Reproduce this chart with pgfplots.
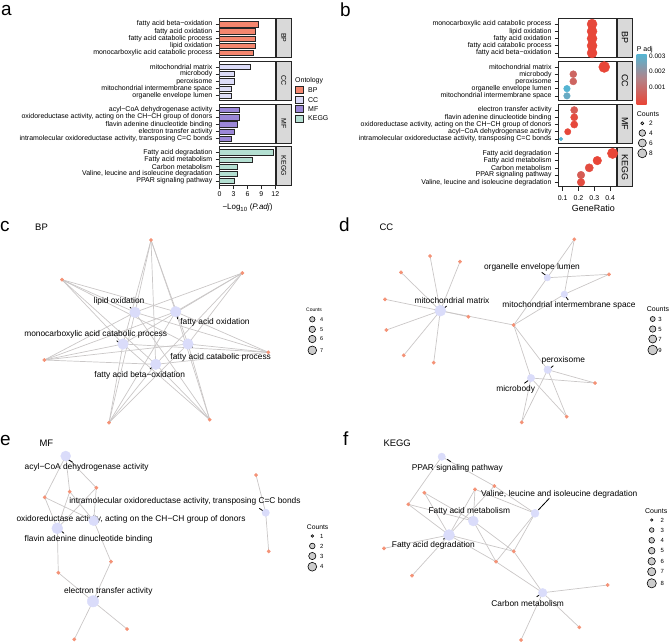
\documentclass[border=0pt]{standalone}
\usepackage{pgfplots}
\pgfplotsset{compat=1.18}
\usepackage{fontspec}
\setmainfont{Liberation Sans}
\newcommand\fs[1]{\fontsize{#1}{#1}\selectfont}
\definecolor{cBP}{RGB}{244,134,110}
\definecolor{cCC}{RGB}{220,220,248}
\definecolor{cMF}{RGB}{155,135,215}
\definecolor{cKE}{RGB}{180,224,210}
\definecolor{gene}{RGB}{244,146,118}
\definecolor{term}{RGB}{218,220,250}
\definecolor{edgec}{RGB}{202,199,199}
\definecolor{stripc}{RGB}{217,217,217}
\definecolor{pred}{RGB}{232,70,56}
\definecolor{pblue}{RGB}{85,180,210}
\definecolor{pmid}{RGB}{180,130,135}
\pgfplotsset{
  facet/.style={scale only axis, anchor=north west, y dir=reverse, ymin=0.2, ymax=5.6,
    ytick={1,2,3,4,5}, ytick pos=left, xtick pos=bottom, tick align=outside,
    major tick length=4bp, tick style={black!85, line width=0.5bp},
    axis line style={black!85, line width=0.7bp},
    yticklabel=\empty, xticklabel=\empty, xtick=\empty},
  facetA/.style={facet, width=56bp, height=38.8bp, xmin=-0.03, xmax=12.04},
  facetB/.style={facet, width=58bp, height=39bp, xmin=0.0747, xmax=0.442,
    colormap={pa}{rgb255=(232,70,56) rgb255=(180,130,135) rgb255=(85,180,210)},
    point meta min=0, point meta max=0.0031},
  dots/.style={scatter, only marks, mark=*, point meta=explicit,
    scatter/use mapped color={draw=mapped color, fill=mapped color},
    visualization depends on={\thisrow{r}\as\msz},
    scatter/@pre marker code/.append style={/tikz/mark size=\msz bp}},
  bars/.style={xbar, bar width=5.3bp, draw=black!85, line width=0.5bp},
}
% network coordinates (pixel units)
\def\pcA{151,240}\def\pcB{62,279.7}\def\pcC{242.3,273}\def\pcD{268.3,352.3}\def\pcE{44.3,360}\def\pcF{109,422.7}\def\pcG{209.7,419.7}
\def\pcLO{135,312.3}\def\pcFO{175.7,311.7}\def\pcMC{123,344}\def\pcFC{188,344}\def\pcBO{155.7,364.3}
\def\pdA{430,256}\def\pdB{460,261.7}\def\pdC{401,272.3}\def\pdD{385,299.3}\def\pdE{386.3,330}\def\pdF{403.7,355.3}\def\pdG{433.7,362.7}\def\pdH{468.3,316.7}\def\pdI{513.7,325}\def\pdJ{574.3,239.3}\def\pdK{609,274.3}\def\pdL{595,383}\def\pdM{566.7,416.7}\def\pdN{521.7,422.3}
\def\pdMM{440.3,310.7}\def\pdOE{547.3,277.7}\def\pdMS{564.3,294.3}\def\pdPX{547.7,369.7}\def\pdMB{531,378}
\def\peA{44.7,497.3}\def\peB{69.7,491.7}\def\peC{96.3,487.7}\def\peD{58.3,572.7}\def\peE{111,561.7}\def\peF{127,629}\def\peG{74.3,639.3}\def\peH{256,475}\def\peI{268.7,551.3}
\def\peAC{65.7,456}\def\peOX{93.7,520.7}\def\peFL{57.3,528.3}\def\peET{93,601.3}\def\peIM{265.7,512.7}
\def\pfA{424.3,492.7}\def\pfB{408.3,504.3}\def\pfC{475,489.3}\def\pfD{494.3,486}\def\pfE{384,548.3}\def\pfF{412,575.7}\def\pfG{513.7,551.3}\def\pfH{496,561.7}\def\pfI{607.7,585}\def\pfJ{579.3,627.3}\def\pfK{521,640}
\def\pfPP{441.7,456.7}\def\pfVL{535,513.3}\def\pfFM{473.3,521}\def\pfFD{449,535}\def\pfCM{542.7,592.7}
\newcommand\Edge[2]{\edef\tmp{\noexpand\addplot[edgec, line width=0.7bp, forget plot] coordinates {(\csname p#1\endcsname) (\csname p#2\endcsname)};}\tmp}
\newcommand\Term[2]{\edef\tmp{\noexpand\addplot[only marks, mark=*, mark size=#2bp, color=term, forget plot] coordinates {(\csname p#1\endcsname)};}\tmp}
\newcommand\Gene[1]{\edef\tmp{\noexpand\addplot[only marks, mark=*, mark size=1.7bp, color=gene, forget plot] coordinates {(\csname p#1\endcsname)};}\tmp}
\newcommand\LC[3]{\addplot[only marks, mark=*, mark size=#3bp, mark options={fill=black!20, draw=black, line width=0.6bp}, forget plot] coordinates {(#1,#2)};}
\newcommand\Ec[1]{\Edge{#1}{cA}\Edge{#1}{cB}\Edge{#1}{cC}\Edge{#1}{cD}\Edge{#1}{cE}\Edge{#1}{cF}\Edge{#1}{cG}}
% category label helpers: right edge x, y, text
\newcommand\CL[3]{\node[anchor=east, font=\fs{7}, inner sep=0] at (#1,#2) {#3};}
\begin{document}
\begin{tikzpicture}
\path[use as bounding box] (0bp,0bp) rectangle (669bp,-642bp);
\begin{axis}[at={(0bp,0bp)}, anchor=north west, scale only axis, width=669bp, height=642bp,
  xmin=0, xmax=669, ymin=0, ymax=642, y dir=reverse, hide axis, clip=false]
% panel c edges
\Ec{cLO}\Ec{cFO}\Ec{cMC}\Ec{cFC}\Ec{cBO}
% panel d edges
\Edge{dMM}{dA}\Edge{dMM}{dB}\Edge{dMM}{dC}\Edge{dMM}{dD}\Edge{dMM}{dE}\Edge{dMM}{dF}\Edge{dMM}{dG}\Edge{dMM}{dH}\Edge{dMM}{dI}
\Edge{dOE}{dI}\Edge{dOE}{dJ}\Edge{dOE}{dK}
\Edge{dMS}{dI}\Edge{dMS}{dJ}\Edge{dMS}{dK}
\Edge{dPX}{dI}\Edge{dPX}{dL}\Edge{dPX}{dM}\Edge{dPX}{dN}
\Edge{dMB}{dI}\Edge{dMB}{dL}\Edge{dMB}{dM}\Edge{dMB}{dN}
% panel e edges
\Edge{eAC}{eA}\Edge{eAC}{eB}\Edge{eAC}{eC}
\Edge{eOX}{eA}\Edge{eOX}{eB}\Edge{eOX}{eC}\Edge{eOX}{eE}
\Edge{eFL}{eA}\Edge{eFL}{eB}\Edge{eFL}{eC}\Edge{eFL}{eD}
\Edge{eET}{eD}\Edge{eET}{eE}\Edge{eET}{eF}\Edge{eET}{eG}
\Edge{eIM}{eH}\Edge{eIM}{eI}
% panel f edges
\Edge{fPP}{fB}\Edge{fPP}{fD}
\Edge{fVL}{fC}\Edge{fVL}{fD}\Edge{fVL}{fG}\Edge{fVL}{fH}
\Edge{fFM}{fA}\Edge{fFM}{fB}\Edge{fFM}{fC}\Edge{fFM}{fG}\Edge{fFM}{fH}
\Edge{fFD}{fA}\Edge{fFD}{fB}\Edge{fFD}{fC}\Edge{fFD}{fD}\Edge{fFD}{fE}\Edge{fFD}{fF}\Edge{fFD}{fG}\Edge{fFD}{fH}
\Edge{fCM}{fG}\Edge{fCM}{fH}\Edge{fCM}{fI}\Edge{fCM}{fJ}\Edge{fCM}{fK}
% term nodes
\Term{cLO}{5.3}\Term{cFO}{5.3}\Term{cMC}{5.3}\Term{cFC}{5.3}\Term{cBO}{5.3}
\Term{dMM}{5.5}\Term{dOE}{3.3}\Term{dMS}{3.3}\Term{dPX}{3.8}\Term{dMB}{3.7}
\Term{eAC}{5}\Term{eOX}{5}\Term{eFL}{5.5}\Term{eET}{5.7}\Term{eIM}{3.7}
\Term{fPP}{3.7}\Term{fVL}{4}\Term{fFM}{5}\Term{fFD}{5.5}\Term{fCM}{4.3}
% gene nodes
\Gene{cA}\Gene{cB}\Gene{cC}\Gene{cD}\Gene{cE}\Gene{cF}\Gene{cG}
\Gene{dA}\Gene{dB}\Gene{dC}\Gene{dD}\Gene{dE}\Gene{dF}\Gene{dG}\Gene{dH}\Gene{dI}\Gene{dJ}\Gene{dK}\Gene{dL}\Gene{dM}\Gene{dN}
\Gene{eA}\Gene{eB}\Gene{eC}\Gene{eD}\Gene{eE}\Gene{eF}\Gene{eG}\Gene{eH}\Gene{eI}
\Gene{fA}\Gene{fB}\Gene{fC}\Gene{fD}\Gene{fE}\Gene{fF}\Gene{fG}\Gene{fH}\Gene{fI}\Gene{fJ}\Gene{fK}
% count legends
\LC{312.3}{319.3}{2.7}\LC{312.3}{329.3}{3.2}\LC{312.3}{339}{3.7}\LC{312.3}{350.3}{4.3}
\LC{652.7}{319}{2.5}\LC{652.7}{329}{3.2}\LC{652.7}{339}{4}\LC{652.7}{350}{4.8}
\LC{312.3}{536}{1.3}\LC{312.3}{546}{2.8}\LC{312.3}{556}{3.6}\LC{312.3}{566.7}{4.4}
\LC{651.7}{520}{1.2}\LC{651.7}{530}{2.3}\LC{651.7}{540.3}{2.8}\LC{651.7}{550.7}{3.3}\LC{651.7}{561.3}{3.7}\LC{651.7}{571.7}{4.1}\LC{651.7}{583.3}{4.6}
\LC{642.3}{123.3}{1.5}\LC{642.3}{133}{3.3}\LC{642.3}{143}{4}\LC{642.3}{153.3}{4.5}
% ontology legend keys
\addplot[fill=cBP, draw=black!85, line width=0.6bp, forget plot] coordinates {(295,86.5) (303.3,86.5) (303.3,93.5) (295,93.5) (295,86.5)};
\addplot[fill=cCC, draw=black!85, line width=0.6bp, forget plot] coordinates {(295,96.2) (303.3,96.2) (303.3,103.2) (295,103.2) (295,96.2)};
\addplot[fill=cMF, draw=black!85, line width=0.6bp, forget plot] coordinates {(295,105.5) (303.3,105.5) (303.3,112.5) (295,112.5) (295,105.5)};
\addplot[fill=cKE, draw=black!85, line width=0.6bp, forget plot] coordinates {(295,114.8) (303.3,114.8) (303.3,121.8) (295,121.8) (295,114.8)};
% ---- panel letters and titles
\node[anchor=base west, font=\fs{19}, inner sep=0] at (1,15) {a};
\node[anchor=base west, font=\fs{19}, inner sep=0] at (340,16) {b};
\node[anchor=base west, font=\fs{19}, inner sep=0] at (0,231.7) {c};
\node[anchor=base west, font=\fs{19}, inner sep=0] at (339,231.7) {d};
\node[anchor=base west, font=\fs{19}, inner sep=0] at (0,445) {e};
\node[anchor=base west, font=\fs{19}, inner sep=0] at (343,445) {f};
\node[anchor=base west, font=\fs{9.5}, inner sep=0] at (35,230.7) {BP};
\node[anchor=base west, font=\fs{9.5}, inner sep=0] at (379.3,230.7) {CC};
\node[anchor=base west, font=\fs{9.5}, inner sep=0] at (39.3,446.7) {MF};
\node[anchor=base west, font=\fs{9.5}, inner sep=0] at (383.3,446.7) {KEGG};
% ---- category labels panel a
\CL{212.5}{24.15}{fatty acid beta−oxidation}
\CL{212.5}{31.33}{fatty acid oxidation}
\CL{212.5}{38.52}{fatty acid catabolic process}
\CL{212.5}{45.70}{lipid oxidation}
\CL{212.5}{52.89}{monocarboxylic acid catabolic process}
\CL{212.5}{66.85}{mitochondrial matrix}
\CL{212.5}{74.03}{microbody}
\CL{212.5}{81.22}{peroxisome}
\CL{212.5}{88.40}{mitochondrial intermembrane space}
\CL{212.5}{95.59}{organelle envelope lumen}
\CL{212.5}{109.95}{acyl−CoA dehydrogenase activity}
\CL{212.5}{117.13}{oxidoreductase activity, acting on the CH−CH group of donors}
\CL{212.5}{124.32}{flavin adenine dinucleotide binding}
\CL{212.5}{131.50}{electron transfer activity}
\CL{212.5}{138.69}{intramolecular oxidoreductase activity, transposing C=C bonds}
\CL{212.5}{152.35}{Fatty acid degradation}
\CL{212.5}{159.53}{Fatty acid metabolism}
\CL{212.5}{166.72}{Carbon metabolism}
\CL{212.5}{173.90}{Valine, leucine and isoleucine degradation}
\CL{212.5}{181.09}{PPAR signaling pathway}
% ---- category labels panel b
\CL{551.7}{24.08}{monocarboxylic acid catabolic process}
\CL{551.7}{31.30}{lipid oxidation}
\CL{551.7}{38.52}{fatty acid oxidation}
\CL{551.7}{45.74}{fatty acid catabolic process}
\CL{551.7}{52.97}{fatty acid beta−oxidation}
\CL{551.7}{66.98}{mitochondrial matrix}
\CL{551.7}{74.20}{microbody}
\CL{551.7}{81.42}{peroxisome}
\CL{551.7}{88.64}{organelle envelope lumen}
\CL{551.7}{95.87}{mitochondrial intermembrane space}
\CL{551.7}{110.08}{electron transfer activity}
\CL{551.7}{117.30}{flavin adenine dinucleotide binding}
\CL{551.7}{124.52}{oxidoreductase activity, acting on the CH−CH group of donors}
\CL{551.7}{131.74}{acyl−CoA dehydrogenase activity}
\CL{551.7}{138.97}{intramolecular oxidoreductase activity, transposing C=C bonds}
\CL{551.7}{153.38}{Fatty acid degradation}
\CL{551.7}{160.60}{Fatty acid metabolism}
\CL{551.7}{167.82}{Carbon metabolism}
\CL{551.7}{175.04}{PPAR signaling pathway}
\CL{551.7}{182.27}{Valine, leucine and isoleucine degradation}
% ---- x tick numbers
\begin{scope}[every node/.style={font=\fs{7}, inner sep=0}]
\node at (219.64,194.3) {0}; \node at (233.56,194.3) {3}; \node at (247.48,194.3) {6};
\node at (261.4,194.3) {9}; \node at (275.3,194.3) {12};
\node at (562.7,198.5) {0.1}; \node at (578.5,198.5) {0.2}; \node at (594.3,198.5) {0.3}; \node at (610.1,198.5) {0.4};
\end{scope}
% strips
\draw[fill=stripc, draw=black!85, line width=0.6bp] (276,18.4) rectangle (291.7,57.2);
\draw[fill=stripc, draw=black!85, line width=0.6bp] (276,61.1) rectangle (291.7,99.9);
\draw[fill=stripc, draw=black!85, line width=0.6bp] (276,104.2) rectangle (291.7,143);
\draw[fill=stripc, draw=black!85, line width=0.6bp] (276,146.6) rectangle (291.7,185.4);
\node[rotate=-90, font=\fs{7}] at (283.85,37.8) {BP};
\node[rotate=-90, font=\fs{7}] at (283.85,80.5) {CC};
\node[rotate=-90, font=\fs{7}] at (283.85,123.6) {MF};
\node[rotate=-90, font=\fs{7}] at (283.85,166) {KEGG};
\draw[fill=stripc, draw=black!85, line width=0.6bp] (617.3,18.3) rectangle (632.7,57.3);
\draw[fill=stripc, draw=black!85, line width=0.6bp] (617.3,61.2) rectangle (632.7,100.2);
\draw[fill=stripc, draw=black!85, line width=0.6bp] (617.3,104.3) rectangle (632.7,143.3);
\draw[fill=stripc, draw=black!85, line width=0.6bp] (617.3,147.6) rectangle (632.7,186.6);
\node[rotate=-90, font=\fs{9}] at (625,37.8) {BP};
\node[rotate=-90, font=\fs{9}] at (625,80.7) {CC};
\node[rotate=-90, font=\fs{9}] at (625,123.8) {MF};
\node[rotate=-90, font=\fs{9}] at (625,167.1) {KEGG};
% axis titles
\node[font=\fs{8}] at (247.5,207.5) {−Log\textsubscript{10} (\textit{P.adj})};
\node[font=\fs{9}] at (593.3,208.3) {GeneRatio};
% ontology legend
\node[anchor=west, font=\fs{7}, inner sep=0] at (295,81) {Ontology};
\node[anchor=west, font=\fs{7}, inner sep=0] at (308,90) {BP};
\node[anchor=west, font=\fs{7}, inner sep=0] at (308,99.7) {CC};
\node[anchor=west, font=\fs{7}, inner sep=0] at (308,109) {MF};
\node[anchor=west, font=\fs{7}, inner sep=0] at (308,118.3) {KEGG};
% colourbar legend b
\node[anchor=west, font=\fs{7}, inner sep=0] at (636.7,49.3) {P adj};
\shade[top color=pblue, bottom color=pred, middle color=pmid] (636.7,54.3) rectangle (646.7,104);
\node[anchor=west, font=\fs{6.5}, inner sep=0] at (649,56.7) {0.003};
\node[anchor=west, font=\fs{6.5}, inner sep=0] at (649,71.7) {0.002};
\node[anchor=west, font=\fs{6.5}, inner sep=0] at (649,87.3) {0.001};
\node[anchor=west, font=\fs{7}, inner sep=0] at (636.7,114) {Counts};
\node[font=\fs{6.5}, inner sep=0] at (651,123.3) {2};
\node[font=\fs{6.5}, inner sep=0] at (651,133) {4};
\node[font=\fs{6.5}, inner sep=0] at (651,143) {6};
\node[font=\fs{6.5}, inner sep=0] at (651,153.3) {8};
% network legends text
\node[anchor=west, font=\fs{5}, inner sep=0] at (306,310) {Counts};
\node[font=\fs{5.5}, inner sep=0] at (321.7,319.3) {4};
\node[font=\fs{5.5}, inner sep=0] at (321.7,329.3) {5};
\node[font=\fs{5.5}, inner sep=0] at (321.7,339) {6};
\node[font=\fs{5.5}, inner sep=0] at (321.7,350.3) {7};
\node[anchor=west, font=\fs{7}, inner sep=0] at (646.7,309.3) {Counts};
\node[font=\fs{6}, inner sep=0] at (660,319) {3};
\node[font=\fs{6}, inner sep=0] at (660,329) {5};
\node[font=\fs{6}, inner sep=0] at (660,339) {7};
\node[font=\fs{6}, inner sep=0] at (660,350) {9};
\node[anchor=west, font=\fs{6.8}, inner sep=0] at (306.7,526.7) {Counts};
\node[font=\fs{6}, inner sep=0] at (321.7,536) {1};
\node[font=\fs{6}, inner sep=0] at (321.7,546) {2};
\node[font=\fs{6}, inner sep=0] at (321.7,556) {3};
\node[font=\fs{6}, inner sep=0] at (321.7,566.7) {4};
\node[anchor=west, font=\fs{7}, inner sep=0] at (645,510.7) {Counts};
\node[font=\fs{6}, inner sep=0] at (662.3,520) {2};
\node[font=\fs{6}, inner sep=0] at (662.3,530) {3};
\node[font=\fs{6}, inner sep=0] at (662.3,540.3) {4};
\node[font=\fs{6}, inner sep=0] at (662.3,550.7) {5};
\node[font=\fs{6}, inner sep=0] at (662.3,561.3) {6};
\node[font=\fs{6}, inner sep=0] at (662.3,571.7) {7};
\node[font=\fs{6}, inner sep=0] at (662.3,583.3) {8};
% network labels and leaders
\begin{scope}[every node/.style={font=\fs{8.4}, inner sep=0}, line width=0.8bp]
\node at (119,301.3) {lipid oxidation}; \draw (130,307.3)--(133.3,310);
\node at (215,322.7) {fatty acid oxidation}; \draw (176.7,315)--(177.7,319);
\node at (95.7,334.3) {monocarboxylic acid catabolic process}; \draw (116.7,340.7)--(120.7,344);
\node at (220.7,357.7) {fatty acid catabolic process}; \draw (189.3,345)--(192.7,347.3);
\node at (139.7,375.3) {fatty acid beta−oxidation}; \draw (150,369)--(153.3,366);
\node at (452,300.7) {mitochondrial matrix}; \draw (442.7,309.3)--(446.7,306);
\node at (532,267.7) {organelle envelope lumen}; \draw (541.7,272.3)--(546.7,276);
\node at (569,305.7) {mitochondrial intermembrane space}; \draw (565.3,296)--(568.3,300);
\node at (563.3,360) {peroxisome}; \draw (549.3,369)--(553.3,365.7);
\node at (515.7,389) {microbody}; \draw (524.3,383.3)--(529,380);
\node at (86.7,467.3) {acyl−CoA dehydrogenase activity}; \draw (67.7,459.3)--(72.7,462.3);
\node at (185,501) {intramolecular oxidoreductase activity, transposing C=C bonds}; \draw (259.3,508.3)--(264.3,511.7);
\node at (131,519.3) {oxidoreductase activity, acting on the CH−CH group of donors}; \draw (96.3,517)--(98.3,520.3);
\node at (88.7,539) {flavin adenine dinucleotide binding}; \draw (60,530)--(64,533.3);
\node at (108.3,591.3) {electron transfer activity}; \draw (94.7,599.3)--(98.7,596);
\node at (457.3,468) {PPAR signaling pathway}; \draw (447.3,459.3)--(450.7,461.7);
\node at (559.3,494.3) {Valine, leucine and isoleucine degradation}; \draw (549.3,498.3)--(538.3,510);
\node at (469.3,511) {Fatty acid metabolism}; \draw (470,517.3)--(472.7,520);
\node at (433.3,545.7) {Fatty acid degradation}; \draw (443.3,539.3)--(447.3,536);
\node at (527.7,603.3) {Carbon metabolism}; \draw (536.7,596.7)--(541,594);
\end{scope}
\end{axis}
% ---------------- panel a facets
\begin{axis}[facetA, at={(219.5bp,-18.4bp)}]
\addplot[bars, fill=cBP] coordinates {(8.24,1) (7.66,2) (7.66,3) (7.66,4) (7.30,5)};
\end{axis}
\begin{axis}[facetA, at={(219.5bp,-61.1bp)}]
\addplot[bars, fill=cCC] coordinates {(6.50,1) (3.10,2) (3.10,3) (2.46,4) (2.46,5)};
\end{axis}
\begin{axis}[facetA, at={(219.5bp,-104.2bp)}]
\addplot[bars, fill=cMF] coordinates {(4.27,1) (4.27,2) (3.83,3) (3.25,4) (2.46,5)};
\end{axis}
\begin{axis}[facetA, at={(219.5bp,-146.6bp)}, xtick={0,3,6,9,12}]
\addplot[bars, fill=cKE] coordinates {(11.64,1) (6.94,2) (3.83,3) (3.83,4) (3.25,5)};
\end{axis}
% ---------------- panel b facets
\begin{axis}[facetB, at={(558.7bp,-18.3bp)}]
\addplot[dots] table[x=x, y=y, meta=p] {
x y p r
0.286 1 0.00005 5
0.286 2 0.00002 5
0.286 3 0.00002 5
0.286 4 0.00002 5
0.286 5 0.00001 5
};
\end{axis}
\begin{axis}[facetB, at={(558.7bp,-61.2bp)}]
\addplot[dots] table[x=x, y=y, meta=p] {
x y p r
0.363 1 0.0000003 5.5
0.167 2 0.0008 3.5
0.167 3 0.0008 3.5
0.127 4 0.0031 3.3
0.127 5 0.0028 3.3
};
\end{axis}
\begin{axis}[facetB, at={(558.7bp,-104.3bp)}]
\addplot[dots] table[x=x, y=y, meta=p] {
x y p r
0.173 1 0.00056 3.6
0.173 2 0.00015 3.6
0.173 3 0.00005 3.6
0.132 4 0.00005 3.2
0.089 5 0.0031 1.8
};
\end{axis}
\begin{axis}[facetB, at={(558.7bp,-147.6bp)}, xtick={0.1,0.2,0.3,0.4}]
\addplot[dots] table[x=x, y=y, meta=p] {
x y p r
0.416 1 0.0000001 5.2
0.319 2 0.000001 4.3
0.268 3 0.00015 4.1
0.216 4 0.00056 3.8
0.216 5 0.00015 3.8
};
\end{axis}
\end{tikzpicture}
\end{document}
